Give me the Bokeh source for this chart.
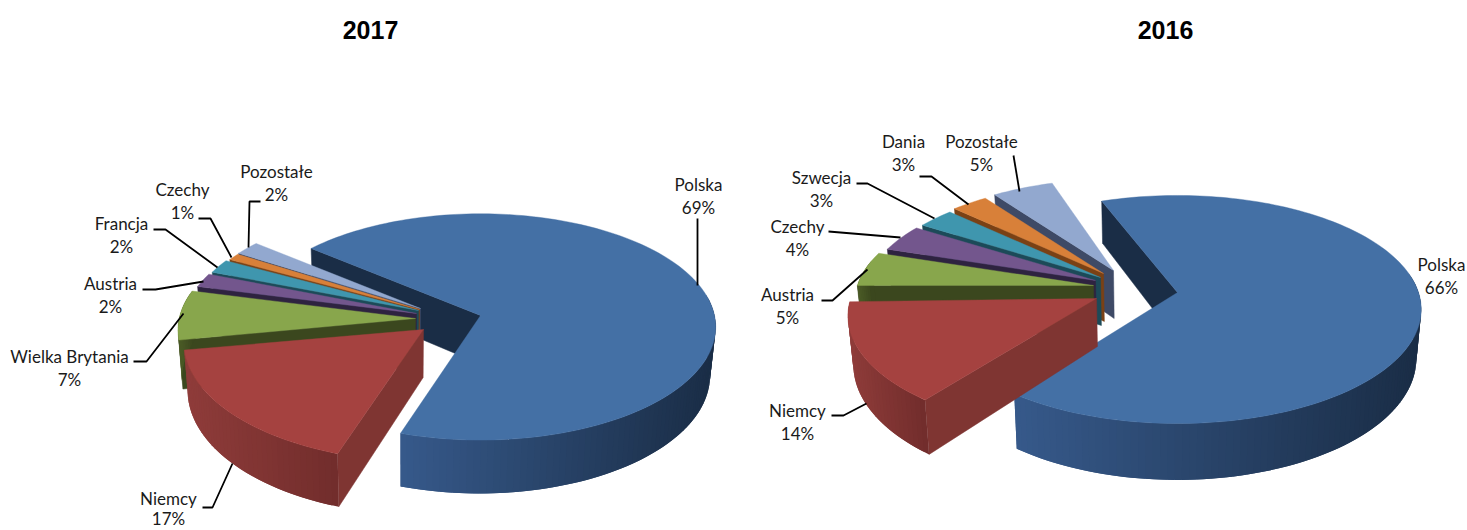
import math
from bokeh.plotting import figure
from bokeh.layouts import row
from bokeh.models import Range1d, ColumnDataSource
from bokeh.core.properties import value
from bokeh.embed import file_html
from bokeh.resources import INLINE

# ---- data ----
years = ["2017", "2016"]
names_2017 = ["Polska", "Niemcy", "Wielka Brytania", "Austria", "Francja", "Czechy", "Pozostałe"]
values_2017 = [69, 17, 7, 2, 2, 1, 2]
names_2016 = ["Polska", "Niemcy", "Austria", "Czechy", "Szwecja", "Dania", "Pozostałe"]
values_2016 = [66, 14, 5, 4, 3, 3, 5]

# ---- styles ----
FONT = "Lato"
TOP = ["#4470A5", "#A54240", "#88A64C", "#73568D", "#3F96AE", "#D88039", "#92A8CF"]
WALL = ["#1A2D46", "#7F3532", "#3B471E", "#2E2340", "#1C4A58", "#7A4115", "#3E4A66"]
SIDE_L = ["#36598A", "#8F3C3A", "#4A5A26", "#3E2F55", "#25606F", "#96501C", "#56658A"]
SIDE_R = ["#1A2D46", "#722D2C", "#3B471E", "#2E2340", "#1C4A58", "#7A4115", "#3E4A66"]

# ---- layout (pixels of the page) ----
FIG_H = 530
W_LEFT = 735
W_RIGHT = 732
DEPTH_SHRINK = 0.018
LOWEST_TEXT_Y = 518

LAYOUT = {
    "2017": dict(
        start=-50.4, rx=234, ry=112, k=0.101, depth=48, vanish_x=403,
        apex=[(480, 315), (423, 329), (415, 318), (416, 313), (418, 310), (419, 309), (420, 308)],
        scale=[1, 1.02, 1.01, 0.99, 0.98, 0.97, 0.97],
        yscale=[1, 1.04, 1, 1, 1, 1, 1],
        shift=[0, 1, 0, 0, -0.4, 0, 0],
        labels=[(698, 184), (168, 498), (69, 356), (110, 283), (121, 223), (182, 189), (276, 171)],
        leaders=[[(697, 218), (697, 285)],
                 [(202, 507), (212, 507), (232, 463)],
                 [(133, 361), (146, 361), (183, 313)],
                 [(142, 289), (155, 289), (203, 281)],
                 [(153, 229), (165, 229), (217, 267)],
                 [(198, 218), (210, 218), (231, 257)],
                 [(260, 201), (249, 201), (248, 247)]],
        title_x=370,
    ),
    "2016": dict(
        start=-21, rx=241, ry=111.5, k=0.149, depth=48, vanish_x=1150,
        apex=[(1177, 292), (1096, 298), (1093, 285), (1095, 280), (1100, 277), (1103, 273), (1113, 270)],
        scale=[1, 1.02, 0.98, 0.95, 0.945, 0.935, 0.94],
        yscale=[1, 1, 1, 1, 1, 1, 1],
        shift=[0, 1.4, 3, 3, 3, 3, 3],
        labels=[(1441, 264), (797, 410), (787, 294), (797, 226), (821, 177), (903, 141), (981, 141)],
        leaders=[[],
                 [(831, 415), (843, 415), (866, 403)],
                 [(821, 300), (832, 300), (867, 269)],
                 [(828, 231), (840, 232), (900, 237)],
                 [(856, 183), (867, 183), (934, 218)],
                 [(919, 176), (931, 176), (968, 204)],
                 [(1013, 155), (1019, 191)]],
        title_x=1165,
    ),
}


def hex_mix(a, b, t):
    ca = [int(a[i:i + 2], 16) for i in (1, 3, 5)]
    cb = [int(b[i:i + 2], 16) for i in (1, 3, 5)]
    return "#%02x%02x%02x" % tuple(round(p + (q - p) * t) for p, q in zip(ca, cb))


def project(ap, ang, s, sy, g):
    """A point of the pie's rim, seen in perspective; also its wall depth."""
    u, v = math.sin(math.radians(ang)), math.cos(math.radians(ang))
    w = 1 + g["k"] * v
    return ap[0] + s * g["rx"] * u / w, ap[1] - s * sy * g["ry"] * v / w, g["depth"] / w, v


def draw_pie(p, year, names, vals):
    g = LAYOUT[year]
    low = lambda x: x - DEPTH_SHRINK * (x - g["vanish_x"])
    ang = g["start"]
    spans = []
    for i, val in enumerate(vals):
        spans.append((ang + g["shift"][i], ang + val * 3.6 + g["shift"][i]))
        ang += val * 3.6
    # back slices first, the first slice at the very back, the second at the very front
    order = [0] + list(range(len(vals) - 1, 0, -1))
    for i in order:
        a0, a1 = spans[i]
        ap, s, sy = g["apex"][i], g["scale"][i], g["yscale"][i]
        n = max(3, int((a1 - a0) / 1.5))
        rim = [project(ap, a0 + (a1 - a0) * j / n, s, sy, g) for j in range(n + 1)]
        # the slice's first radial wall
        x0, y0, d0, _ = rim[0]
        p.patch([ap[0], x0, low(x0), low(ap[0])], [ap[1], y0, y0 + d0, ap[1] + g["depth"]],
                fill_color=WALL[i], line_color=WALL[i], line_width=0.5)
        # the outer wall, with its gradient; each quad overlaps the next to hide seams
        front = [q for q in range(n) if rim[q][3] < 0.2]
        if front:
            xmin = min(rim[q][0] for q in front)
            xmax = max(rim[q][0] for q in front)
            xs, ys, cs = [], [], []
            for q in front:
                A, B = rim[q], rim[min(q + 2, n)]
                xs.append([A[0], B[0], low(B[0]), low(A[0])])
                ys.append([A[1], B[1], B[1] + B[2], A[1] + A[2]])
                t = (A[0] - xmin) / max(xmax - xmin, 1)
                cs.append(hex_mix(SIDE_L[i], SIDE_R[i], t))
            src = ColumnDataSource(dict(xs=xs, ys=ys, c=cs))
            p.patches("xs", "ys", source=src, fill_color="c", line_color=None)
        # the top face
        p.patch([ap[0]] + [r[0] for r in rim], [ap[1]] + [r[1] for r in rim],
                fill_color=TOP[i], line_color=TOP[i], line_width=0.4)

    for line in g["leaders"]:
        if line:
            p.line([c[0] for c in line], [c[1] for c in line], line_color="#000000", line_width=1.8)

    lx = [c[0] for c in g["labels"]]
    ly = [c[1] for c in g["labels"]]
    p.text(lx, ly, text=names, text_font=value(FONT), text_font_size="17px",
           text_align="center", text_baseline="middle", text_color="#1a1a1a")
    p.text(lx, [min(y + 22.5, LOWEST_TEXT_Y) for y in ly], text=["%d%%" % v for v in vals],
           text_font=value(FONT), text_font_size="17px", text_align="center",
           text_baseline="middle", text_color="#1a1a1a")
    p.text([g["title_x"]], [29], text=[year], text_font=value("Liberation Sans"),
           text_font_size="25px", text_font_style="bold", text_align="center",
           text_baseline="middle", text_color="#000000")


def make_fig(x0, width):
    p = figure(width=width, height=FIG_H, output_backend="svg", toolbar_location=None,
               x_range=Range1d(x0, x0 + width), y_range=Range1d(FIG_H, 0),
               min_border=0, outline_line_color=None, background_fill_color="#ffffff",
               border_fill_color="#ffffff")
    p.axis.visible = False
    p.grid.visible = False
    return p


left = make_fig(0, W_LEFT)
right = make_fig(W_LEFT, W_RIGHT)
draw_pie(left, years[0], names_2017, values_2017)
draw_pie(right, years[1], names_2016, values_2016)

page = row(left, right, spacing=0)
open("out.html", "w").write(file_html(page, INLINE))
